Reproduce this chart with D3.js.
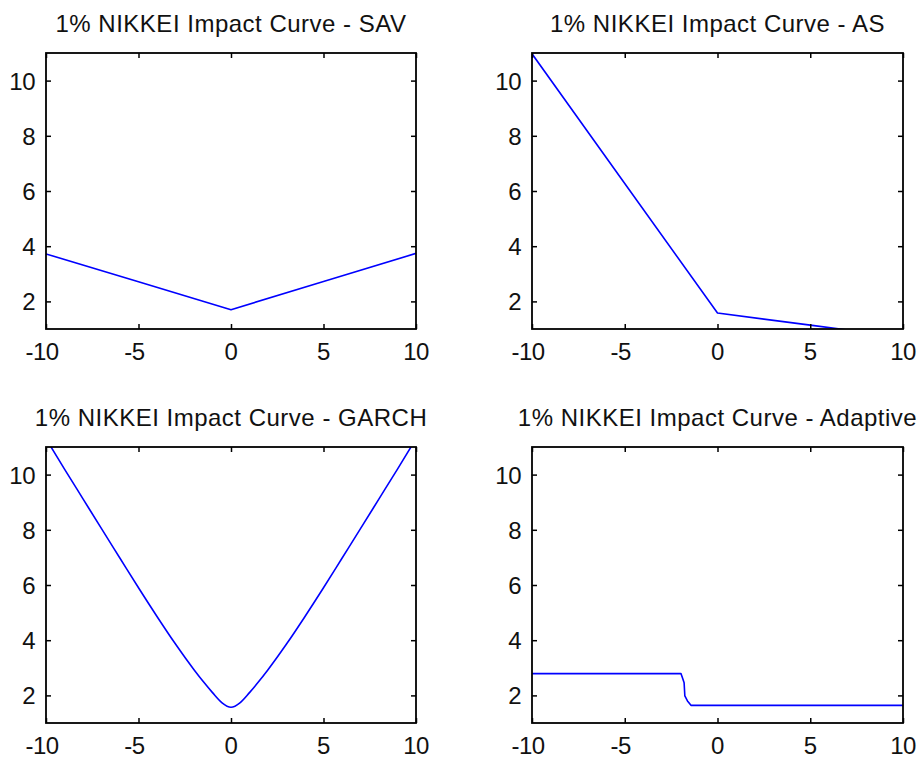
<!DOCTYPE html>
<html>
<head>
<meta charset="utf-8">
<script src="https://cdn.jsdelivr.net/npm/d3@7"></script>
<style>
  html, body { margin: 0; padding: 0; background: #fff; }
  svg { display: block; }
  text { font-family: "Liberation Sans", Arial, sans-serif; fill: #111; }
</style>
</head>
<body>
<svg id="chart" width="919" height="758"></svg>
<script>
// ---- data ----
const xTickValues = [-10, -5, 0, 5, 10];
const yTickValues = [2, 4, 6, 8, 10];
const xDomain = [-10, 10];
const yDomain = [1, 11];

const titles = [
  "1% NIKKEI Impact Curve - SAV",
  "1% NIKKEI Impact Curve - AS",
  "1% NIKKEI Impact Curve - GARCH",
  "1% NIKKEI Impact Curve - Adaptive"
];

const savX = [-10, -5, 0, 5, 10];
const savY = [3.72, 2.71, 1.70, 2.72, 3.74];

const asX = [-10, -5, 0, 5, 10];
const asY = [10.97, 6.27, 1.58, 1.14, 0.70];

const garchX = [-10, -9, -8, -7, -6, -5, -4, -3, -2, -1.5, -1, -0.5, 0, 0.5, 1, 1.5, 2, 3, 4, 5, 6, 7, 8, 9, 10];
const garchY = [11.30, 10.20, 9.12, 8.04, 6.97, 5.90, 4.86, 3.86, 2.93, 2.50, 2.10, 1.74, 1.57, 1.74, 2.10, 2.50, 2.93, 3.86, 4.86, 5.90, 6.97, 8.04, 9.12, 10.20, 11.30];

const adaptiveX = [-10, -1.97, -1.89, -1.80, -1.76, -1.62, -1.43, 10];
const adaptiveY = [2.79, 2.79, 2.64, 2.46, 1.98, 1.80, 1.64, 1.64];

// ---- layout ----
const panels = [
  { left: 46,  top: 53,  w: 370, h: 276, xs: savX, ys: savY, title: titles[0], curve: d3.curveLinear },
  { left: 532, top: 53,  w: 371, h: 276, xs: asX, ys: asY, title: titles[1], curve: d3.curveLinear },
  { left: 46,  top: 447, w: 370, h: 276, xs: garchX, ys: garchY, title: titles[2], curve: d3.curveMonotoneX },
  { left: 532, top: 447, w: 371, h: 276, xs: adaptiveX, ys: adaptiveY, title: titles[3], curve: d3.curveLinear }
];

const svg = d3.select("#chart");
const defs = svg.append("defs");

panels.forEach((p, i) => {
  const x = d3.scaleLinear().domain(xDomain).range([0, p.w]);
  const y = d3.scaleLinear().domain(yDomain).range([p.h, 0]);
  const g = svg.append("g").attr("transform", `translate(${p.left},${p.top})`);

  defs.append("clipPath").attr("id", "clip" + i)
    .append("rect").attr("x", 0).attr("y", 0).attr("width", p.w).attr("height", p.h);

  // title
  g.append("text")
    .attr("x", p.w / 2).attr("y", -21)
    .attr("text-anchor", "middle")
    .style("font-size", "24px")
    .style("letter-spacing", "0.5px")
    .text(p.title);

  // data line
  const pts = p.xs.map((v, k) => [v, p.ys[k]]);
  g.append("path")
    .attr("clip-path", `url(#clip${i})`)
    .attr("d", d3.line().curve(p.curve).x(d => x(d[0])).y(d => y(d[1]))(pts))
    .attr("fill", "none")
    .attr("stroke", "#0000ff")
    .attr("stroke-width", 1.6)
    .attr("stroke-linejoin", "round");

  // axes (ticks inward)
  const axB = g.append("g").attr("transform", `translate(0,${p.h})`)
    .call(d3.axisBottom(x).tickValues(xTickValues).tickSize(-5).tickFormat(""));
  const axT = g.append("g")
    .call(d3.axisTop(x).tickValues(xTickValues).tickSize(-5).tickFormat(""));
  const axL = g.append("g")
    .call(d3.axisLeft(y).tickValues(yTickValues).tickSize(-5).tickFormat(""));
  const axR = g.append("g").attr("transform", `translate(${p.w},0)`)
    .call(d3.axisRight(y).tickValues(yTickValues).tickSize(-5).tickFormat(""));
  [axB, axT, axL, axR].forEach(a => {
    a.select(".domain").remove();
    a.selectAll("line").attr("stroke", "#000").attr("stroke-width", 1.5);
  });

  // frame
  g.append("rect")
    .attr("x", 0).attr("y", 0).attr("width", p.w).attr("height", p.h)
    .attr("fill", "none").attr("stroke", "#000").attr("stroke-width", 1.8);

  // tick labels
  g.selectAll(".xl").data(xTickValues).enter().append("text")
    .attr("x", d => x(d)).attr("y", p.h + 30.5)
    .attr("dx", d => d < 0 ? -4 : 0)
    .attr("text-anchor", "middle")
    .style("font-size", "24px")
    .style("letter-spacing", "-0.5px")
    .text(d => d);
  g.selectAll(".yl").data(yTickValues).enter().append("text")
    .attr("x", -11).attr("y", d => y(d) + 9)
    .attr("text-anchor", "end")
    .style("font-size", "24px")
    .style("letter-spacing", "-0.5px")
    .text(d => d);
});
</script>
</body>
</html>
